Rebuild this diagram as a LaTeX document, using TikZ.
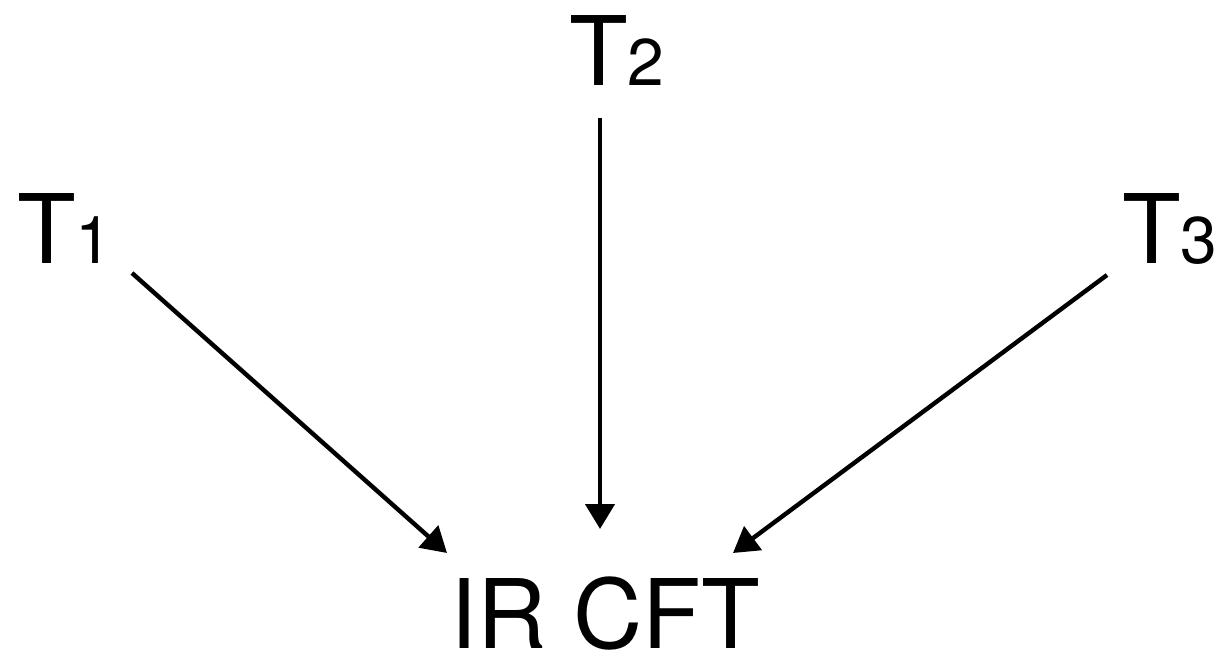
\documentclass[tikz,border=0pt]{standalone}
\usepackage{fontspec}
\setmainfont{TeX Gyre Heros}
\usetikzlibrary{arrows.meta}
\begin{document}
\begin{tikzpicture}[x=1pt,y=-1pt,
  lbl/.style={inner sep=0pt, outer sep=0pt, text depth=0pt, font=\fontsize{96}{100}\selectfont},
  flow/.style={line width=4.4pt, -{Triangle[length=25pt,width=29pt]}}]
  \useasboundingbox (0,0) rectangle (1217,653);
  % theory labels
  \node[lbl, anchor=base west] (t1) at (17,263) {T{\fontsize{66}{70}\selectfont 1}};
  \node[lbl, anchor=base west] (t2) at (569,85) {T{\fontsize{66}{70}\selectfont 2}};
  \node[lbl, anchor=base west] (t3) at (1122,263) {T{\fontsize{66}{70}\selectfont 3}};
  \node[lbl, anchor=base] (ir) at (605,648) {IR CFT};
  % connector ends
  \coordinate (s1) at (132,273);
  \coordinate (e1) at (447,553);
  \coordinate (s2) at (600,118);
  \coordinate (e2) at (600,529);
  \coordinate (s3) at (1107,275);
  \coordinate (e3) at (733,553);
  \draw[flow] (s1) -- (e1);
  \draw[flow] (s2) -- (e2);
  \draw[flow] (s3) -- (e3);
\end{tikzpicture}
\end{document}
